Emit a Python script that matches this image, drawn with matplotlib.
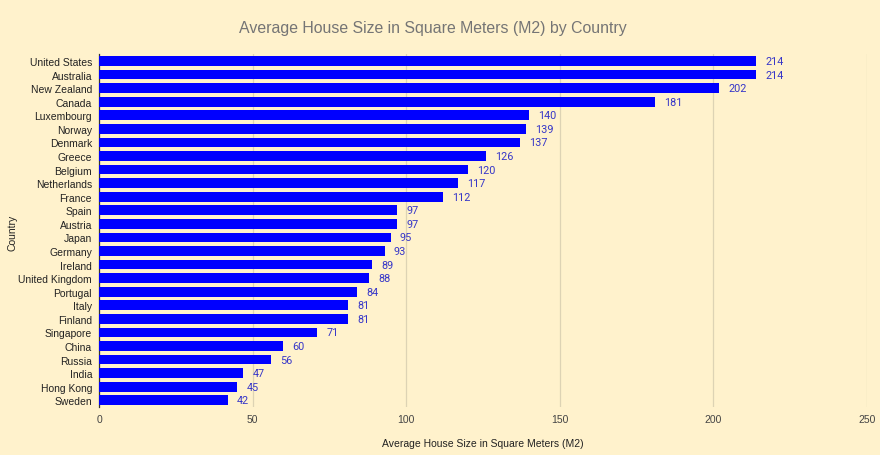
import matplotlib.pyplot as plt

countries = ["United States", "Australia", "New Zealand", "Canada", "Luxembourg",
             "Norway", "Denmark", "Greece", "Belgium", "Netherlands", "France",
             "Spain", "Austria", "Japan", "Germany", "Ireland", "United Kingdom",
             "Portugal", "Italy", "Finland", "Singapore", "China", "Russia",
             "India", "Hong Kong", "Sweden"]
sizes = [214, 214, 202, 181, 140, 139, 137, 126, 120, 117, 112, 97, 97, 95, 93,
         89, 88, 84, 81, 81, 71, 60, 56, 47, 45, 42]
xticks = [0, 50, 100, 150, 200, 250]

bg = "#fff2cc"
fig = plt.figure(figsize=(8.8, 4.56), dpi=100, facecolor=bg)
ax = fig.add_axes([0.1125, 0.105, 0.8725, 0.774], facecolor=bg)

pos = list(range(len(countries)))
ax.barh(pos, sizes, height=0.72, color="#0000ff", zorder=3)
for p, v in zip(pos, sizes):
    ax.text(v + 3, p, str(v), va="center", ha="left", fontsize=7.8,
            color="#3636c8", family="Roboto")

ax.set_ylim(len(countries) - 0.5, -0.5)
ax.set_xlim(0, 250)
ax.set_yticks(pos)
ax.set_yticklabels(countries, fontsize=7.5, family="Liberation Sans", color="#222222")
ax.set_xticks(xticks)
ax.set_xticklabels([str(t) for t in xticks], fontsize=7.5, family="Liberation Sans",
                   color="#444444")
ax.tick_params(length=0, pad=5)
ax.grid(axis="x", color="#ddd3b4", linewidth=0.9, zorder=0)
for s in ["top", "right", "bottom"]:
    ax.spines[s].set_visible(False)
ax.spines["left"].set_color("#333333")
ax.spines["left"].set_linewidth(0.9)

ax.set_xlabel("Average House Size in Square Meters (M2)", fontsize=7.5,
              family="Liberation Sans", color="#222222", labelpad=10)
fig.text(0.008, 0.49, "Country", rotation=90, fontsize=7.5, family="Liberation Sans",
         color="#222222", va="center", ha="left")
fig.text(0.492, 0.938, "Average House Size in Square Meters (M2) by Country",
         fontsize=11.4, family="Liberation Sans", color="#757575", ha="center", va="center")

fig.savefig("out.png", dpi=100, facecolor=bg)
